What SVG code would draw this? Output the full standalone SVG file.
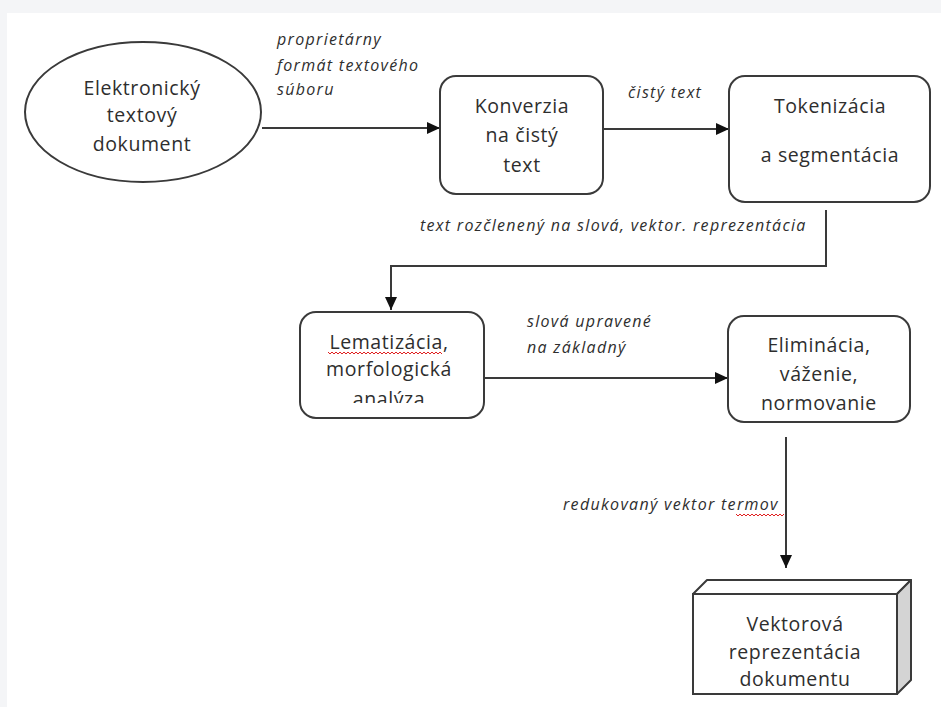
<svg xmlns="http://www.w3.org/2000/svg" width="941" height="707" viewBox="0 0 941 707">
  <style>
    .shape { fill: #ffffff; stroke: #3a3a3a; stroke-width: 2; }
    .node { font-family: "Open Sans", "Noto Sans", sans-serif; font-size: 19.5px; letter-spacing: 0.6px; fill: #2e2e2e; text-anchor: middle; }
    .lbl { font-family: "Open Sans", "Noto Sans", sans-serif; font-size: 16px; letter-spacing: 1.3px; font-style: italic; fill: #2e2e2e; }
    .wire { fill: none; stroke: #3a3a3a; stroke-width: 2; }
    .spell { fill: none; stroke: #e02020; stroke-width: 1; }
  </style>
  <defs>
    <marker id="arrow" viewBox="0 0 13 12" refX="13" refY="6" markerWidth="13" markerHeight="12" markerUnits="userSpaceOnUse" orient="auto">
      <path d="M0,0 L13,6 L0,12 Z" fill="#111111"/>
    </marker>
    <clipPath id="lemaClip">
      <rect x="300" y="312" width="184" height="91"/>
    </clipPath>
  </defs>

  <!-- page -->
  <rect x="0" y="0" width="941" height="707" fill="#f4f5f7"/>
  <rect x="7" y="13" width="934" height="694" fill="#ffffff"/>

  <!-- connectors -->
  <g id="connectors">
    <line class="wire" x1="262" y1="128" x2="440" y2="128" marker-end="url(#arrow)"/>
    <line class="wire" x1="603" y1="129" x2="729" y2="129" marker-end="url(#arrow)"/>
    <polyline class="wire" points="826,210 826,266 391,266 391,310" marker-end="url(#arrow)"/>
    <line class="wire" x1="484" y1="378" x2="728" y2="378" marker-end="url(#arrow)"/>
    <line class="wire" x1="786" y1="437" x2="786" y2="568" marker-end="url(#arrow)"/>

    <text class="lbl" x="277" y="45">proprietárny</text>
    <text class="lbl" x="277" y="71">formát textového</text>
    <text class="lbl" x="277" y="95">súboru</text>
    <text class="lbl" x="628" y="98">čistý text</text>
    <text class="lbl" x="420" y="231">text rozčlenený na slová, vektor. reprezentácia</text>
    <text class="lbl" x="527" y="327">slová upravené</text>
    <text class="lbl" x="527" y="353">na základný</text>
    <text class="lbl" x="563" y="510">redukovaný vektor termov</text>
    <path class="spell" d="M736,514 l2,2 l2,-2 l2,2 l2,-2 l2,2 l2,-2 l2,2 l2,-2 l2,2 l2,-2 l2,2 l2,-2 l2,2 l2,-2 l2,2 l2,-2 l2,2 l2,-2 l2,2 l2,-2 l2,2 l2,-2 l2,2 l2,-2"/>
  </g>

  <!-- source document -->
  <g id="elektronicky-dokument">
    <ellipse class="shape" cx="143" cy="112" rx="118" ry="70"/>
    <text class="node" x="142" y="95">Elektronický</text>
    <text class="node" x="142" y="122">textový</text>
    <text class="node" x="142" y="151">dokument</text>
  </g>

  <g id="konverzia">
    <rect class="shape" x="440" y="76" width="163" height="118" rx="16"/>
    <text class="node" x="522" y="113">Konverzia</text>
    <text class="node" x="522" y="142">na čistý</text>
    <text class="node" x="522" y="172">text</text>
  </g>

  <g id="tokenizacia">
    <rect class="shape" x="729" y="76" width="201" height="126" rx="16"/>
    <text class="node" x="830" y="113">Tokenizácia</text>
    <text class="node" x="830" y="162">a segmentácia</text>
  </g>

  <g id="lematizacia">
    <rect class="shape" x="300" y="312" width="184" height="106" rx="16"/>
    <g clip-path="url(#lemaClip)">
      <text class="node" x="389" y="349">Lematizácia,</text>
      <text class="node" x="389" y="376">morfologická</text>
      <text class="node" x="389" y="406">analýza</text>
    </g>
    <path class="spell" d="M328,352 l2,2 l2,-2 l2,2 l2,-2 l2,2 l2,-2 l2,2 l2,-2 l2,2 l2,-2 l2,2 l2,-2 l2,2 l2,-2 l2,2 l2,-2 l2,2 l2,-2 l2,2 l2,-2 l2,2 l2,-2 l2,2 l2,-2 l2,2 l2,-2 l2,2 l2,-2 l2,2 l2,-2 l2,2 l2,-2 l2,2 l2,-2 l2,2 l2,-2 l2,2 l2,-2 l2,2 l2,-2 l2,2 l2,-2 l2,2 l2,-2 l2,2 l2,-2 l2,2 l2,-2 l2,2 l2,-2 l2,2 l2,-2 l2,2 l2,-2 l2,2 l2,-2 l2,2"/>
  </g>

  <g id="eliminacia">
    <rect class="shape" x="728" y="316" width="182" height="106" rx="16"/>
    <text class="node" x="819" y="352">Eliminácia,</text>
    <text class="node" x="819" y="381">váženie,</text>
    <text class="node" x="819" y="410">normovanie</text>
  </g>

  <!-- 3D result block -->
  <g id="vektorova-reprezentacia">
    <polygon points="693,594 707,580 911,580 897,594" fill="#ffffff" stroke="#3a3a3a" stroke-width="2" stroke-linejoin="round"/>
    <polygon points="897,594 911,580 911,680 897,694" fill="#d4d4d4" stroke="#3a3a3a" stroke-width="2" stroke-linejoin="round"/>
    <rect class="shape" x="693" y="594" width="204" height="100"/>
    <text class="node" x="795" y="631">Vektorová</text>
    <text class="node" x="795" y="659">reprezentácia</text>
    <text class="node" x="795" y="686">dokumentu</text>
  </g>
</svg>
